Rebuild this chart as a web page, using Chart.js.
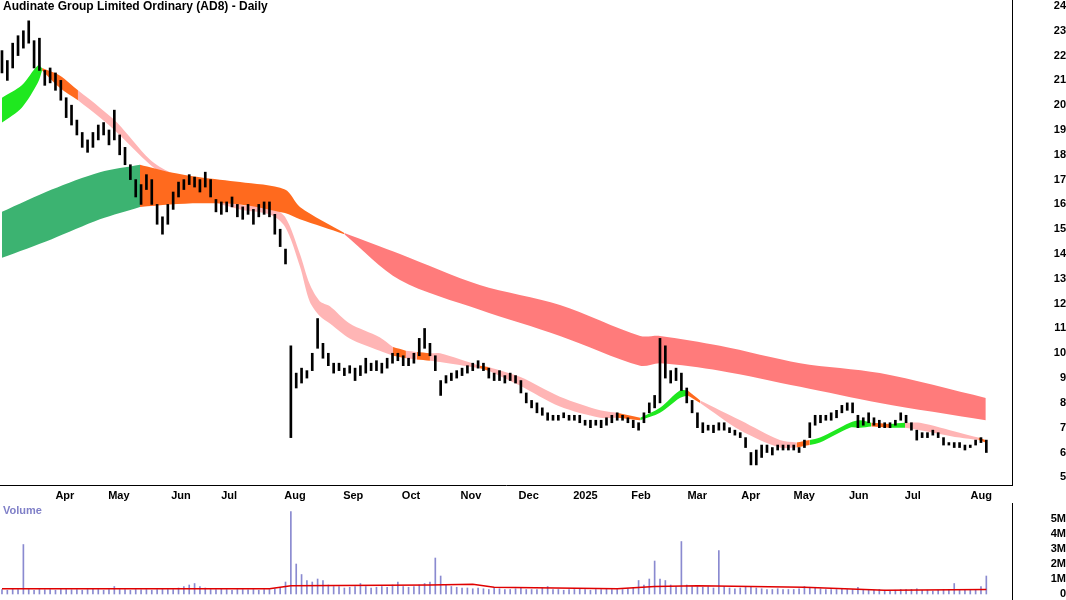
<!DOCTYPE html>
<html><head><meta charset="utf-8">
<script src="https://cdn.jsdelivr.net/npm/chart.js@4"></script>
<style>body{margin:0;background:#fff;width:1066px;height:600px;overflow:hidden;position:relative}
#c1{position:absolute;left:0;top:0}#c2{position:absolute;left:0;top:503px}</style></head>
<body><canvas id="c1" width="1066" height="503"></canvas><canvas id="c2" width="1066" height="97"></canvas>
<script>
const title = "Audinate Group Limited Ordinary (AD8) - Daily";
const monthLabels = ["Apr","May","Jun","Jul","Aug","Sep","Oct","Nov","Dec","2025","Feb","Mar","Apr","May","Jun","Jul","Aug"];
const monthPos = [9.7,19.8,31.4,40.4,52.7,63.6,74.4,85.6,96.4,107,117.4,127.9,137.9,147.9,158.1,168.2,181];
const priceTicks = [5,6,7,8,9,10,11,12,13,14,15,16,17,18,19,20,21,22,23,24];
const volTicks = [0,1,2,3,4,5];
const lows = [21.3,21.0,21.5,22.0,22.3,22.5,21.5,21.4,20.8,20.9,20.6,20.2,19.5,19.2,18.8,18.3,18.1,18.3,18.6,18.8,
18.4,18.6,18.0,17.6,17.0,16.3,16.0,16.6,16.0,15.2,14.8,15.2,15.8,16.3,16.6,16.8,16.7,16.5,16.7,16.3,
15.7,15.6,15.7,15.9,15.5,15.4,15.6,15.2,15.5,15.6,15.5,14.8,14.3,13.6,6.6,8.6,8.8,9.0,9.3,10.2,
9.8,9.5,9.2,9.3,9.1,9.2,8.9,9.1,9.2,9.3,9.3,9.2,9.4,9.6,9.7,9.5,9.5,9.6,9.9,10.2,
9.9,9.3,8.3,8.8,8.9,9.0,9.1,9.2,9.3,9.4,9.3,9.0,8.9,8.9,8.8,8.9,8.8,8.4,8.0,7.8,
7.6,7.5,7.3,7.3,7.3,7.4,7.3,7.3,7.2,7.1,7.0,7.1,7.0,7.1,7.2,7.3,7.3,7.2,7.0,6.9,
7.2,7.6,7.8,8.0,9.0,8.8,8.9,8.5,8.0,7.6,7.0,6.8,6.9,6.8,6.9,6.9,6.8,6.7,6.6,6.2,
5.5,5.5,5.8,6.0,5.9,6.1,6.1,6.1,6.1,6.0,6.2,6.6,7.1,7.2,7.3,7.3,7.4,7.6,7.7,7.6,
7.0,7.1,7.2,7.1,7.0,7.0,7.0,7.1,7.3,7.2,6.9,6.5,6.6,6.6,6.7,6.6,6.3,6.3,6.2,6.2,
6.1,6.2,6.3,6.4,6.0];
const highs = [22.2,21.8,22.5,22.8,23.0,23.4,22.6,22.7,21.4,21.5,21.3,21.0,20.3,20.0,19.4,18.9,18.6,18.9,19.2,19.3,
19.0,19.8,18.8,18.3,17.6,17.0,16.8,17.2,17.0,16.0,15.5,16.0,16.5,16.9,17.0,17.2,17.1,17.0,17.3,17.0,
16.2,16.1,16.1,16.3,16.0,15.9,16.0,15.8,16.0,16.1,16.1,15.6,15.0,14.2,10.3,9.2,9.4,9.3,10.0,11.4,
10.4,10.0,9.6,9.6,9.4,9.5,9.4,9.5,9.8,9.6,9.7,9.6,9.8,10.0,10.0,9.9,9.8,10.0,10.6,11.0,
10.4,9.9,8.9,9.1,9.2,9.3,9.4,9.5,9.6,9.7,9.6,9.4,9.2,9.3,9.1,9.2,9.1,8.9,8.4,8.1,
8.0,7.8,7.6,7.5,7.5,7.6,7.5,7.5,7.5,7.3,7.3,7.3,7.3,7.4,7.5,7.6,7.5,7.4,7.3,7.2,
7.6,8.0,8.3,10.6,10.3,9.3,9.4,9.2,8.6,8.1,7.6,7.2,7.1,7.1,7.2,7.2,7.0,6.9,6.8,6.6,
6.0,6.1,6.3,6.3,6.2,6.3,6.3,6.3,6.3,6.2,6.5,7.2,7.5,7.5,7.5,7.6,7.7,7.9,8.0,8.0,
7.5,7.4,7.6,7.4,7.3,7.2,7.2,7.3,7.6,7.5,7.2,6.9,6.8,6.8,6.9,6.8,6.6,6.4,6.4,6.4,
6.3,6.3,6.5,6.6,6.5];
const volume = [.3,.25,.35,.3,3.3,.3,.25,.3,.28,.3, .25,.3,.3,.28,.3,.25,.3,.35,.3,.25,
.3,.5,.3,.3,.25,.3,.28,.3,.25,.3, .35,.3,.3,.4,.5,.6,.7,.5,.4,.3,
.3,.35,.3,.25,.3,.3,.28,.3,.25,.3, .3,.35,.4,.8,5.5,2.0,1.3,.9,.8,1.0,
.9,.6,.5,.5,.4,.45,.5,.7,.5,.4, .45,.5,.45,.6,.8,.5,.45,.5,.6,.7,
.8,2.4,1.2,.6,.5,.45,.4,.4,.35,.4, .35,.3,.4,.35,.3,.3,.35,.4,.3,.3,
.3,.4,.5,.3,.3,.25,.3,.3,.35,.3, .25,.3,.3,.35,.3,.3,.3,.35,.4,.9,
.6,1.0,2.2,1.0,.9,.6,.5,3.5,.6,.5, .5,.45,.5,.4,2.9,.5,.4,.35,.4,.5,
.5,.4,.35,.3,.3,.35,.3,.3,.3,.35, .5,.45,.4,.35,.3,.3,.3,.35,.3,.3,
.45,.3,.25,.25,.3,.25,.2,.25,.3,.3, .3,.35,.25,.25,.2,.25,.3,.25,.7,.25,
.25,.3,.3,.5,1.2];
const volAvgX = [0,50,54,80,88,92,115,122,130,150,165,184];
const volAvgY = [0.35,0.35,0.55,0.6,0.65,0.45,0.35,0.5,0.55,0.45,0.25,0.3];
const shortX = [0,3.7,6.7,7.5,10.8,14.2,18.3,21.5,27.7,31.4,37,44.5,50,52.9,55.7,57.5,59.4,61.3,65,70.6,73.1,75.5,77.5,80,81.9,89.3,91,96.8,104.3,111.8,115,119.3,123,126.7,128.2,130.5,138,145.4,148.5,151,152.9,158.5,160.4,162.5,166,168.8,171.6,179,182.5,183.9];
const shortHi = [20.3,20.8,21.6,21.5,21.2,20.6,19.9,19.3,17.8,17.3,16.9,16.0,15.9,15.5,14.0,12.8,12.1,11.9,11.2,10.65,10.25,10.1,10.05,10.0,10.0,9.5,9.45,9.05,8.25,7.7,7.6,7.4,7.8,8.5,8.5,8.1,7.3,6.5,6.4,6.5,6.6,7.2,7.3,7.2,7.15,7.2,7.2,6.8,6.6,6.5];
const shortLo = [19.3,19.9,20.9,21.4,20.7,20.2,19.5,18.9,17.6,17.0,16.3,15.8,15.6,15.1,13.5,12.1,11.5,11.2,10.6,10.1,9.9,9.8,9.75,9.7,9.65,9.4,9.3,8.7,7.85,7.4,7.4,7.3,7.6,8.2,8.3,8.0,6.9,6.2,6.2,6.3,6.4,7.0,7.0,7.05,7.0,7.0,6.9,6.6,6.5,6.4];
const shortCol = "GGGOOPPPPPPPPPPPPPPPOPOPPOPPPPOGGGOPPPOGGGGOGPPPO";
const longX = [0,9.3,18.3,25.8,31.4,37,44.5,52.9,55.7,64,74.4,89.3,104.3,119.3,123,134.2,149.2,164.1,183.9];
const longHi = [15.7,16.6,17.3,17.6,17.3,17.1,16.9,16.6,15.9,14.85,14.0,12.75,11.95,10.7,10.7,10.3,9.6,9.2,8.2];
const longLo = [13.85,14.6,15.4,15.9,16.0,16.05,16.0,15.65,15.4,14.8,12.95,11.75,10.7,9.5,9.6,9.3,8.65,8.0,7.3];
const longCol = "DDDOOOOOORRRRRRRRR";

const colors = {G:'#1fe81f',O:'#ff6a1e',P:'#ffb5b5',D:'#3cb371',R:'#ff7b7b'};
function band(X,H,L,C){
  const out=[]; let s=0;
  for(let k=1;k<=C.length;k++){
    if(k===C.length || C[k]!==C[s]){
      const lo=[],hi=[];
      for(let j=s;j<=k;j++){lo.push({x:X[j],y:L[j]});hi.push({x:X[j],y:H[j]});}
      const c=colors[C[s]];
      out.push({type:'line',data:lo,borderWidth:0,pointRadius:0,fill:false,order:10,borderColor:c,tension:0.3});
      out.push({type:'line',data:hi,borderWidth:0,pointRadius:0,fill:'-1',backgroundColor:c,borderColor:c,order:10,tension:0.3});
      s=k;
    }
  }
  return out;
}
const xMin=-0.37, xMax=188.8;
const candles = lows.map((l,i)=>({x:i,y:[l,highs[i]]}));
const textPlugin={id:'txt',afterDraw(ch,a,o){const c=ch.ctx;c.save();c.font=o.font;c.fillStyle=o.color;c.textBaseline='top';c.fillText(o.text,o.x,o.y);c.restore();}};
function fitY(s){s.width=54;s.paddingTop=0;s.paddingBottom=0;}
function fitX(s){s.height=18;s.paddingLeft=0;s.paddingRight=0;}
Chart.defaults.font.family='Liberation Sans, Arial, sans-serif';
Chart.defaults.color='#000';
new Chart(document.getElementById('c1'),{
  type:'bar',
  data:{datasets:[{type:'bar',data:candles,backgroundColor:'#000',barThickness:2,order:0},
    ...band(longX,longHi,longLo,longCol),...band(shortX,shortHi,shortLo,shortCol)]},
  options:{responsive:false,animation:false,layout:{padding:0},
    plugins:{legend:{display:false},tooltip:{enabled:false},
      txt:{text:title,x:3,y:1,font:'bold 12px Liberation Sans, Arial',color:'#000'}},
    scales:{
      x:{type:'linear',offset:false,min:xMin,max:xMax,grid:{display:false,drawTicks:true,tickLength:4},border:{color:'#000'},
        afterBuildTicks(s){s.ticks=monthPos.map(v=>({value:v}));},
        afterFit:fitX,
        ticks:{autoSkip:false,maxRotation:0,padding:0,labelOffset:11,font:{size:11,weight:'bold'},
          callback(v,i){return monthLabels[i];}},
      },
      y:{position:'right',min:4.69,max:24.24,grid:{display:false,tickLength:4},border:{color:'#000'},
        afterBuildTicks(s){s.ticks=priceTicks.map(v=>({value:v}));},
        afterFit:fitY,
        ticks:{autoSkip:false,crossAlign:'far',font:{size:11,weight:'bold'},padding:4}}
    }},
  plugins:[textPlugin]
});
new Chart(document.getElementById('c2'),{
  type:'bar',
  data:{datasets:[
    {type:'line',data:volAvgX.map((x,i)=>({x,y:volAvgY[i]})),borderColor:'#e00000',borderWidth:1.5,pointRadius:0,order:0},
    {type:'bar',data:volume.map((v,i)=>({x:i,y:v})),backgroundColor:'#8a8ad0',barThickness:1,order:1}]},
  options:{responsive:false,animation:false,layout:{padding:0},
    plugins:{legend:{display:false},tooltip:{enabled:false},
      txt:{text:'Volume',x:3,y:2,font:'bold 11px Liberation Sans, Arial',color:'#8080c8'}},
    scales:{
      x:{type:'linear',offset:false,min:xMin,max:xMax,display:false},
      y:{position:'right',min:-0.4,max:6.07,grid:{display:false,tickLength:4},border:{color:'#000'},
        afterBuildTicks(s){s.ticks=volTicks.map(v=>({value:v}));},
        afterFit:fitY,
        ticks:{autoSkip:false,crossAlign:'far',font:{size:11,weight:'bold'},padding:4,callback(v){return v===0?'0':v+'M';}}}
    }},
  plugins:[textPlugin]
});
</script></body></html>
